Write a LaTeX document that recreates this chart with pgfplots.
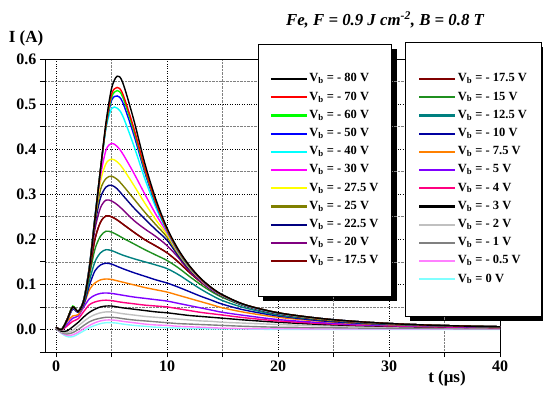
\documentclass[border=0pt]{standalone}
\usepackage{fontspec}
\setmainfont{Liberation Serif}
\usepackage{pgfplots}
\usepackage{pgfplotstable}
\pgfplotsset{compat=1.18}
\pgfdeclarelayer{bg}
\pgfsetlayers{bg,main}

\definecolor{c80}{HTML}{000000}
\definecolor{c70}{HTML}{FF0000}
\definecolor{c60}{HTML}{00FF00}
\definecolor{c50}{HTML}{0000FF}
\definecolor{c40}{HTML}{00FFFF}
\definecolor{c30}{HTML}{FF00FF}
\definecolor{c275}{HTML}{FFFF00}
\definecolor{c25}{HTML}{808000}
\definecolor{c225}{HTML}{000080}
\definecolor{c20}{HTML}{800080}
\definecolor{c175}{HTML}{800000}
\definecolor{c15}{HTML}{1F8F1F}
\definecolor{c125}{HTML}{008080}
\definecolor{c10}{HTML}{0000A0}
\definecolor{c75}{HTML}{FF8000}
\definecolor{c5}{HTML}{8000FF}
\definecolor{c4}{HTML}{FF0080}
\definecolor{c3}{HTML}{000000}
\definecolor{c2}{HTML}{C0C0C0}
\definecolor{c1}{HTML}{808080}
\definecolor{c05}{HTML}{FF80FF}
\definecolor{c0}{HTML}{80FFFF}

\pgfplotstableread{
t a80 a70 a60 a50 a40 a30 a275 a25 a225 a20 a175 a15 a125 a10 a75 a5 a4 a3 a2 a1 a05 a0
0 0.005 0.005 0.005 0.005 0.005 0.005 0.005 0.005 0.005 0.005 0.005 0.005 0.005 0.005 0.005 0.005 0.004 0.003 0.002 0.002 0.001 0.001
0.5 0 0 0 0 0 0 0 0 0 0 0 0 0 0 0 0 -0.001 -0.004 -0.006 -0.007 -0.008 -0.009
1 0.022 0.022 0.022 0.022 0.022 0.022 0.022 0.022 0.022 0.022 0.022 0.022 0.022 0.020 0.018 0.012 0.008 -0.003 -0.007 -0.010 -0.013 -0.016
1.5 0.050 0.050 0.052 0.050 0.050 0.050 0.050 0.050 0.050 0.050 0.050 0.050 0.048 0.045 0.030 0.025 0.018 0.006 -0.002 -0.007 -0.012 -0.016
2 0.040 0.040 0.040 0.040 0.040 0.040 0.040 0.040 0.040 0.040 0.040 0.040 0.040 0.038 0.033 0.030 0.024 0.016 0.008 0.000 -0.006 -0.010
2.5 0.065 0.065 0.066 0.066 0.067 0.067 0.067 0.066 0.066 0.066 0.065 0.063 0.060 0.056 0.055 0.050 0.040 0.028 0.018 0.009 0.002 -0.003
3 0.135 0.136 0.137 0.138 0.140 0.140 0.140 0.138 0.137 0.135 0.128 0.120 0.108 0.098 0.088 0.068 0.055 0.038 0.027 0.017 0.009 0.004
3.5 0.245 0.246 0.247 0.248 0.250 0.248 0.245 0.240 0.233 0.222 0.200 0.178 0.150 0.130 0.103 0.076 0.061 0.045 0.033 0.022 0.015 0.009
4 0.355 0.355 0.355 0.355 0.355 0.340 0.328 0.310 0.292 0.270 0.238 0.207 0.170 0.143 0.110 0.080 0.064 0.050 0.037 0.025 0.019 0.013
4.5 0.460 0.455 0.452 0.450 0.447 0.398 0.368 0.335 0.316 0.287 0.252 0.218 0.177 0.147 0.112 0.081 0.065 0.052 0.039 0.027 0.021 0.015
5 0.535 0.522 0.515 0.508 0.490 0.413 0.378 0.340 0.320 0.285 0.250 0.216 0.175 0.145 0.111 0.080 0.064 0.052 0.039 0.027 0.021 0.015
5.5 0.562 0.537 0.530 0.518 0.491 0.406 0.372 0.333 0.312 0.277 0.243 0.210 0.170 0.140 0.108 0.078 0.062 0.050 0.037 0.026 0.020 0.014
6 0.548 0.523 0.516 0.504 0.474 0.390 0.358 0.320 0.298 0.266 0.234 0.203 0.165 0.135 0.105 0.076 0.060 0.048 0.035 0.024 0.018 0.012
7 0.465 0.447 0.441 0.432 0.408 0.347 0.320 0.290 0.270 0.242 0.216 0.190 0.157 0.126 0.099 0.072 0.057 0.045 0.032 0.021 0.015 0.009
8 0.368 0.357 0.353 0.348 0.334 0.300 0.280 0.260 0.245 0.223 0.199 0.177 0.150 0.118 0.093 0.069 0.054 0.042 0.029 0.019 0.012 0.007
9 0.288 0.282 0.280 0.277 0.270 0.255 0.243 0.232 0.221 0.206 0.185 0.165 0.143 0.110 0.088 0.066 0.052 0.039 0.027 0.017 0.010 0.005
10 0.225 0.222 0.221 0.220 0.218 0.215 0.210 0.205 0.198 0.186 0.170 0.153 0.135 0.103 0.083 0.063 0.050 0.037 0.025 0.015 0.009 0.004
11 0.178 0.176 0.175 0.174 0.173 0.172 0.170 0.168 0.164 0.160 0.150 0.137 0.122 0.094 0.076 0.058 0.046 0.034 0.023 0.013 0.007 0.003
12 0.142 0.141 0.140 0.140 0.139 0.138 0.137 0.136 0.134 0.130 0.127 0.118 0.106 0.084 0.069 0.053 0.042 0.031 0.021 0.012 0.006 0.002
13 0.114 0.113 0.113 0.112 0.112 0.111 0.110 0.110 0.109 0.107 0.106 0.100 0.090 0.074 0.062 0.048 0.038 0.029 0.019 0.011 0.005 0.002
14 0.093 0.092 0.092 0.091 0.091 0.090 0.090 0.090 0.089 0.088 0.088 0.084 0.076 0.065 0.055 0.043 0.035 0.027 0.018 0.010 0.004 0.001
15 0.077 0.076 0.076 0.076 0.075 0.075 0.075 0.075 0.074 0.074 0.074 0.071 0.064 0.056 0.048 0.038 0.032 0.025 0.016 0.009 0.003 0.001
17 0.055 0.055 0.055 0.055 0.054 0.054 0.054 0.054 0.053 0.053 0.053 0.052 0.048 0.043 0.038 0.031 0.026 0.021 0.014 0.007 0.002 0.001
20 0.037 0.037 0.037 0.037 0.036 0.036 0.036 0.036 0.035 0.035 0.035 0.034 0.032 0.030 0.027 0.022 0.019 0.016 0.011 0.005 0.002 0.000
24 0.024 0.024 0.024 0.024 0.024 0.024 0.023 0.023 0.023 0.023 0.022 0.022 0.021 0.019 0.018 0.015 0.013 0.011 0.008 0.004 0.001 0.000
28 0.016 0.016 0.016 0.016 0.016 0.016 0.016 0.016 0.016 0.016 0.015 0.015 0.014 0.013 0.012 0.010 0.009 0.008 0.006 0.003 0.001 0.000
32 0.011 0.011 0.011 0.011 0.011 0.011 0.011 0.011 0.011 0.011 0.011 0.011 0.010 0.010 0.009 0.008 0.007 0.006 0.005 0.003 0.001 0.000
36 0.008 0.008 0.008 0.008 0.008 0.008 0.008 0.008 0.008 0.008 0.008 0.008 0.008 0.007 0.007 0.006 0.005 0.005 0.004 0.002 0.001 0.000
40 0.006 0.006 0.006 0.006 0.006 0.006 0.006 0.006 0.006 0.006 0.006 0.006 0.006 0.005 0.005 0.005 0.004 0.004 0.003 0.002 0.001 0.000
}\data

\pgfplotsset{
  myaxis/.style={scale only axis, width=455pt, height=293pt,
    xmin=-1, xmax=40, ymin=-0.05, ymax=0.6},
  mylegend/.style={
    reverse legend, legend cell align=left,
    legend image code/.code={\draw[##1, line width=2.2pt] (0pt,0pt) -- (36pt,0pt);},
    legend style={draw=black, line width=0.6pt, fill=white,
      font=\fontsize{12.5}{14}\selectfont\bfseries, anchor=north west,
      row sep=2.7pt, inner xsep=11.5pt,
      nodes={inner sep=1.5pt, text height=9pt, text depth=3.5pt}}},
  dat/.style={color=#1, line width=1.4pt, smooth}
}

\begin{document}
\begin{tikzpicture}
\useasboundingbox (-45pt,-40pt) rectangle (498pt,352pt);
\begin{axis}[myaxis, mylegend,
  legend style={at={(0.791,1.058)}, inner ysep=29pt, inner xsep=13pt, name=legB},
  axis line style={line width=0.9pt},
  xtick={0,10,20,30,40}, minor xtick={5,15,25,35},
  ytick={0,0.1,0.2,0.3,0.4,0.5,0.6},
  minor ytick={-0.05,0.05,0.15,0.25,0.35,0.45,0.55},
  tick align=outside, xtick pos=bottom, ytick pos=left,
  major tick length=5pt, minor tick length=5pt,
  every tick/.style={black, line width=0.8pt},
  grid=both,
  major grid style={black, dotted, line width=0.7pt},
  minor grid style={gray, densely dotted, line width=0.7pt},
  ticklabel style={font=\fontsize{16}{18}\selectfont\bfseries},
  /pgf/number format/assume math mode=true,
  yticklabel style={/pgf/number format/.cd, fixed, fixed zerofill, precision=1},
]
\addplot[dat=c0] table[x=t, y=a0] {\data};
\addlegendentry{V\textsubscript{b} = 0 V}
\addplot[dat=c05] table[x=t, y=a05] {\data};
\addlegendentry{V\textsubscript{b} = - 0.5 V}
\addplot[dat=c1] table[x=t, y=a1] {\data};
\addlegendentry{V\textsubscript{b} = - 1 V}
\addplot[dat=c2] table[x=t, y=a2] {\data};
\addlegendentry{V\textsubscript{b} = - 2 V}
\addplot[dat=c3] table[x=t, y=a3] {\data};
\addlegendentry{V\textsubscript{b} = - 3 V}
\addplot[dat=c4] table[x=t, y=a4] {\data};
\addlegendentry{V\textsubscript{b} = - 4 V}
\addplot[dat=c5] table[x=t, y=a5] {\data};
\addlegendentry{V\textsubscript{b} = - 5 V}
\addplot[dat=c75] table[x=t, y=a75] {\data};
\addlegendentry{V\textsubscript{b} = - 7.5 V}
\addplot[dat=c10] table[x=t, y=a10] {\data};
\addlegendentry{V\textsubscript{b} = - 10 V}
\addplot[dat=c125] table[x=t, y=a125] {\data};
\addlegendentry{V\textsubscript{b} = - 12.5 V}
\addplot[dat=c15] table[x=t, y=a15] {\data};
\addlegendentry{V\textsubscript{b} = - 15 V}
\addplot[dat=c175] table[x=t, y=a175] {\data};
\addlegendentry{V\textsubscript{b} = - 17.5 V}
\end{axis}
\begin{axis}[myaxis, mylegend, hide axis,
  legend style={at={(0.468,1.051)}, inner ysep=27pt, name=legA}]
\addplot[dat=c175] table[x=t, y=a175] {\data};
\addlegendentry{V\textsubscript{b} = - 17.5 V}
\addplot[dat=c20] table[x=t, y=a20] {\data};
\addlegendentry{V\textsubscript{b} = - 20 V}
\addplot[dat=c225] table[x=t, y=a225] {\data};
\addlegendentry{V\textsubscript{b} = - 22.5 V}
\addplot[dat=c25] table[x=t, y=a25] {\data};
\addlegendentry{V\textsubscript{b} = - 25 V}
\addplot[dat=c275] table[x=t, y=a275] {\data};
\addlegendentry{V\textsubscript{b} = - 27.5 V}
\addplot[dat=c30] table[x=t, y=a30] {\data};
\addlegendentry{V\textsubscript{b} = - 30 V}
\addplot[dat=c40] table[x=t, y=a40] {\data};
\addlegendentry{V\textsubscript{b} = - 40 V}
\addplot[dat=c50] table[x=t, y=a50] {\data};
\addlegendentry{V\textsubscript{b} = - 50 V}
\addplot[dat=c60] table[x=t, y=a60] {\data};
\addlegendentry{V\textsubscript{b} = - 60 V}
\addplot[dat=c70] table[x=t, y=a70] {\data};
\addlegendentry{V\textsubscript{b} = - 70 V}
\addplot[dat=c80] table[x=t, y=a80] {\data};
\addlegendentry{V\textsubscript{b} = - 80 V}
\end{axis}
\begin{pgfonlayer}{bg}
\fill[black] ([shift={(5pt,-5pt)}]legA.south west) rectangle ([shift={(5pt,-5pt)}]legA.north east);
\fill[black] ([shift={(5pt,-5pt)}]legB.south west) rectangle ([shift={(5pt,-5pt)}]legB.north east);
\end{pgfonlayer}
\node[font=\fontsize{16.8}{19}\selectfont\bfseries\itshape] at (340pt,332pt)
  {Fe, F = 0.9 J cm\textsuperscript{-2}, B = 0.8 T};
\node[font=\fontsize{17}{19}\selectfont\bfseries] at (-19pt,314pt) {I (A)};
\node[font=\fontsize{17}{19}\selectfont\bfseries] at (402pt,-26pt) {t (μs)};
\end{tikzpicture}
\end{document}
